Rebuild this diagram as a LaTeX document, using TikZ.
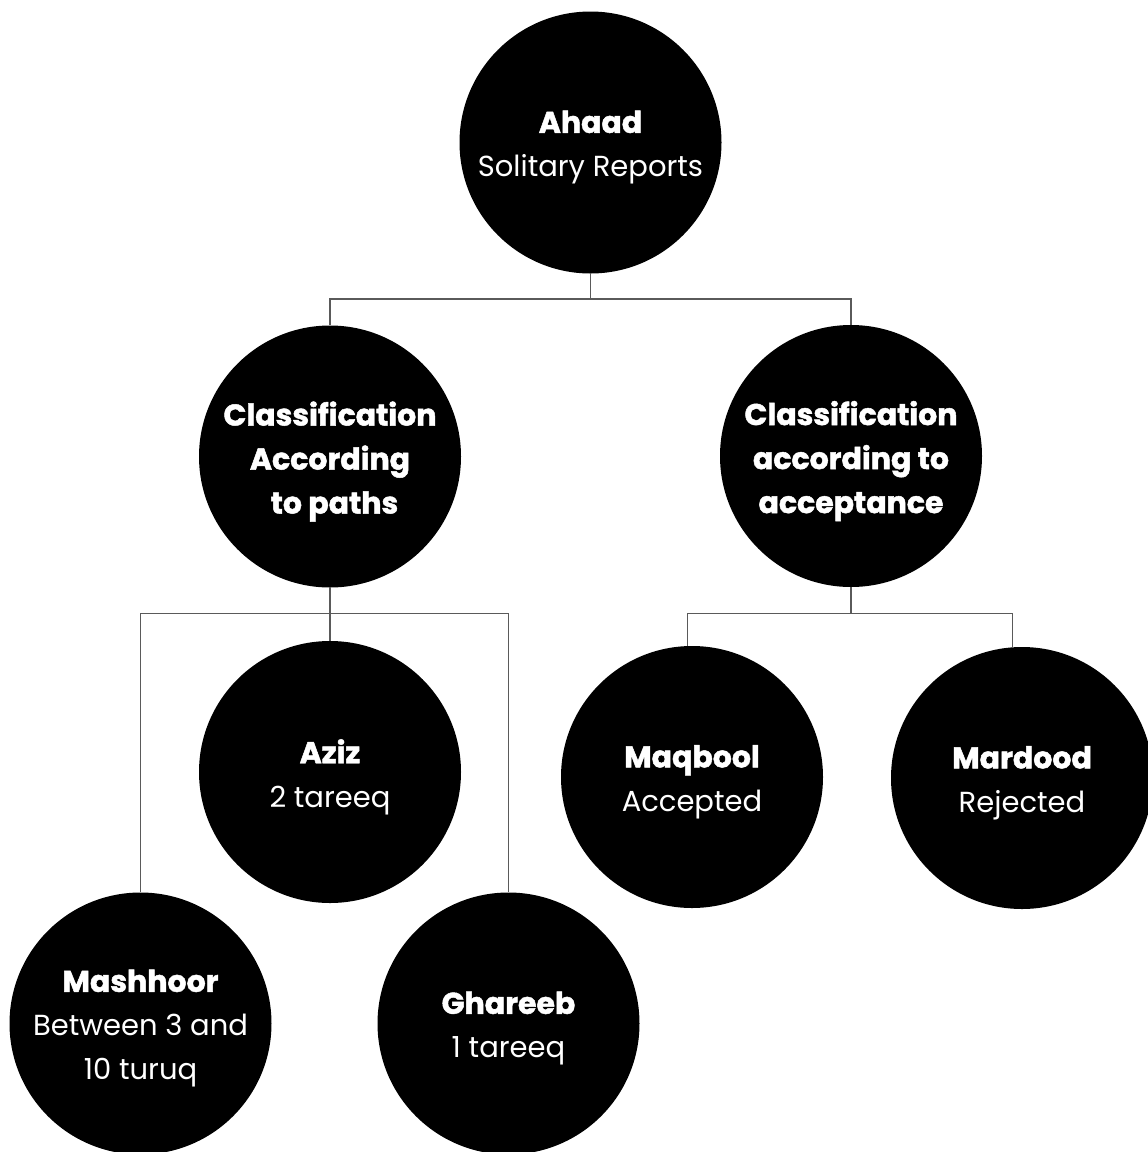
\documentclass[tikz,border=0pt]{standalone}
\usepackage{fontspec}
\setmainfont{Poppins}[BoldFeatures={FakeBold=1.6}]
\definecolor{linegray}{RGB}{90,90,90}
\newcommand\ttl[1]{{\bfseries\fontsize{30}{44}\selectfont #1}}
\tikzset{
  bubble/.style={circle, fill=black, minimum size=262pt, inner sep=0pt},
  caption/.style={text=white, align=center, inner sep=0pt, yshift=-5pt,
    font=\fontsize{29}{44}\selectfont},
  conn/.style={draw=linegray, line width=1.1pt}
}
\begin{document}
\begin{tikzpicture}[x=1pt, y=-1pt]
  \useasboundingbox (0,0) rectangle (1148,1152);
  \clip (0,0) rectangle (1148,1152);
  \fill[white] (0,0) rectangle (1148,1152);

  % hierarchy of circles
  \node[bubble] (top)   at (590.5,142.5) {};
  \node[bubble] (cpath) at (330,456.5)   {};
  \node[bubble] (cacc)  at (851,456)     {};
  \node[bubble] (aziz)  at (330,772)     {};
  \node[bubble] (mash)  at (140.5,1023.5){};
  \node[bubble] (ghar)  at (508.5,1023.5){};
  \node[bubble] (maq)   at (692,777)     {};
  \node[bubble] (mar)   at (1022,778)    {};

  % texts inside the circles
  \node[caption] (toptext)   at (top)   {\ttl{Ahaad}\\Solitary Reports};
  \node[caption] (cpathtext) at (cpath) {\ttl{Classification}\\\ttl{According}\\\hspace*{9pt}\ttl{to paths}};
  \node[caption] (cacctext)  at (cacc)  {\ttl{Classification}\\\ttl{according to}\\\ttl{acceptance}};
  \node[caption] (aziztext)  at (aziz)  {\ttl{Aziz}\\2 tareeq};
  \node[caption] (mashtext)  at (mash)  {\ttl{Mashhoor}\\Between 3 and\\10 turuq};
  \node[caption] (ghartext)  at (ghar)  {\ttl{Ghareeb}\\1 tareeq};
  \node[caption] (maqtext)   at (maq)   {\ttl{Maqbool}\\Accepted};
  \node[caption] (martext)   at (mar)   {\ttl{Mardood}\\Rejected};

  % junction points of the elbow connectors
  \coordinate (j1) at (590.5,299);
  \coordinate (j2) at (330,613.3);
  \coordinate (j3) at (851,613.3);

  \draw[conn] (top.south) -- (j1);
  \draw[conn] (cpath.north) |- (j1) -| (cacc.north);

  \draw[conn] (cpath.south) -- (aziz.north);
  \draw[conn] (mash.north) |- (j2) -| (ghar.north);

  \draw[conn] (cacc.south) -- (j3);
  \draw[conn] (maq.92) |- (j3) -| (mar.94);
\end{tikzpicture}
\end{document}
